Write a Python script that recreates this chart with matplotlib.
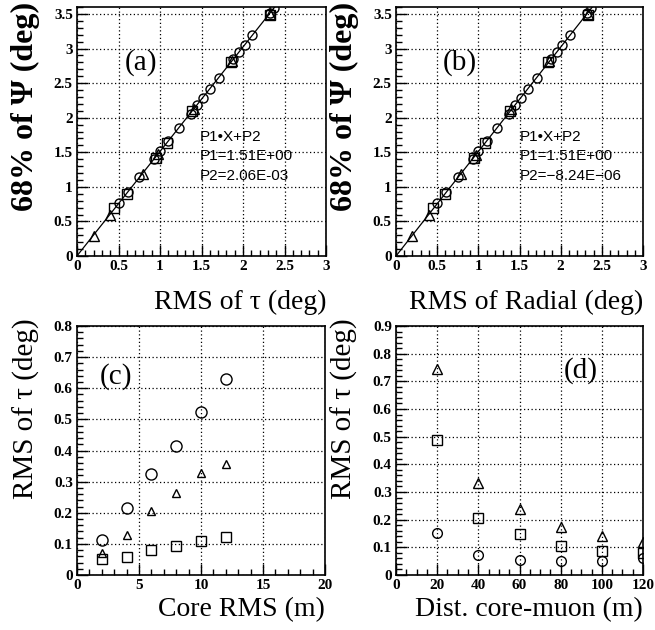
import matplotlib
matplotlib.use("Agg")
import matplotlib.pyplot as plt
import numpy as np
from matplotlib.ticker import MultipleLocator, FuncFormatter

plt.rcParams['font.family'] = ['Liberation Serif', 'DejaVu Serif']

# Panel (a): RMS of tau vs 68% of Psi
a_tri_x = [0.2, 0.4, 0.8, 0.98, 1.41, 1.87, 2.33]
a_tri_y = [0.29, 0.59, 1.19, 1.47, 2.12, 2.82, 3.50]
a_sq_x = [0.45, 0.60, 0.95, 1.08, 1.38, 1.86, 2.33]
a_sq_y = [0.70, 0.90, 1.41, 1.63, 2.10, 2.80, 3.48]
a_ci_x = [0.50, 0.61, 0.75, 0.93, 1.00, 1.10, 1.23, 1.37, 1.44, 1.52, 1.60,
          1.71, 1.88, 1.95, 2.02, 2.11, 2.32, 2.37]
a_ci_y = [0.76, 0.92, 1.14, 1.40, 1.52, 1.66, 1.85, 2.06, 2.18, 2.29, 2.42,
          2.58, 2.85, 2.95, 3.05, 3.19, 3.52, 3.58]
a_fit = ['P1\u2022X+P2', 'P1=1.51E+00', 'P2=2.06E-03']
a_p1, a_p2 = 1.51, 2.06e-3

# Panel (b): RMS of radial vs 68% of Psi
b_tri_x = [0.2, 0.4, 0.79, 0.97, 1.40, 1.86, 2.33]
b_tri_y = [0.29, 0.59, 1.19, 1.46, 2.12, 2.82, 3.50]
b_sq_x = [0.45, 0.60, 0.95, 1.08, 1.38, 1.85, 2.33]
b_sq_y = [0.70, 0.90, 1.41, 1.63, 2.10, 2.80, 3.48]
b_ci_x = [0.50, 0.61, 0.75, 0.93, 1.00, 1.10, 1.23, 1.37, 1.44, 1.52, 1.60,
          1.71, 1.88, 1.95, 2.02, 2.11, 2.32, 2.37]
b_ci_y = [0.76, 0.92, 1.14, 1.40, 1.52, 1.66, 1.85, 2.06, 2.18, 2.29, 2.42,
          2.58, 2.85, 2.95, 3.05, 3.19, 3.52, 3.58]
b_fit = ['P1\u2022X+P2', 'P1=1.51E+00', 'P2=\u22128.24E\u221206']
b_p1, b_p2 = 1.51, -8.24e-6

# Panel (c): core RMS
c_x = [2, 4, 6, 8, 10, 12]
c_ci = [0.112, 0.214, 0.323, 0.413, 0.524, 0.629]
c_tri = [0.072, 0.130, 0.205, 0.263, 0.328, 0.356]
c_sq = [0.050, 0.058, 0.079, 0.092, 0.109, 0.122]

# Panel (d): distance core-muon
d_x = [20, 40, 60, 80, 100, 120]
d_tri = [0.745, 0.332, 0.237, 0.172, 0.142, 0.120]
d_sq = [0.487, 0.206, 0.147, 0.106, 0.086, 0.080]
d_ci = [0.152, 0.073, 0.054, 0.050, 0.050, 0.060]

W, H = 655, 630
fig = plt.figure(figsize=(W/100, H/100), dpi=100)

def make_ax(l, r, t, b):
    return fig.add_axes([l/W, 1 - b/H, (r-l)/W, (b-t)/H])

fmt = FuncFormatter(lambda v, p: '%g' % round(v, 6))

def style(ax, xlim, ylim, xmaj, xmin, ymaj, ymin):
    ax.set_xlim(*xlim); ax.set_ylim(*ylim)
    ax.xaxis.set_major_locator(MultipleLocator(xmaj))
    ax.xaxis.set_minor_locator(MultipleLocator(xmin))
    ax.yaxis.set_major_locator(MultipleLocator(ymaj))
    ax.yaxis.set_minor_locator(MultipleLocator(ymin))
    ax.xaxis.set_major_formatter(fmt)
    ax.yaxis.set_major_formatter(fmt)
    ax.tick_params(which='both', direction='in', top=False, right=False,
                   labelsize=11, width=1, pad=3)
    ax.tick_params(which='major', length=8)
    ax.tick_params(which='minor', length=4)
    ax.grid(True, which='major', linestyle=(0, (1, 2)), color='black', linewidth=0.9)
    for s in ax.spines.values():
        s.set_linewidth(1.2)

def bold_ticks(ax):
    for lab in ax.get_xticklabels() + ax.get_yticklabels():
        lab.set_fontweight('bold')

mk = dict(linestyle='none', markerfacecolor='none', markeredgecolor='black',
          markeredgewidth=1.0)
sans = dict(family=['Liberation Sans', 'DejaVu Sans'], fontsize=11)

def top_panel(ax, tx, ty, sx, sy, cx, cy, p1, p2, fit, tag, xlabel, tx0):
    style(ax, (0, 3), (0, 3.6), 0.5, 0.1, 0.5, 0.1)
    xs = np.linspace(0, 3, 50)
    ax.plot(xs, p1*xs + p2, color='black', linewidth=0.9)
    ax.plot(tx, ty, marker='^', markersize=7.5, **mk)
    ax.plot(sx, sy, marker='s', markersize=6.5, **mk)
    ax.plot(cx, cy, marker='o', markersize=6.5, **mk)
    ax.text(0.57, 2.79, tag, fontsize=21, va='center')
    for txt, yy in zip(fit, [1.72, 1.45, 1.16]):
        ax.text(tx0, yy, txt, va='center', **sans)
    ax.set_ylabel('68% of \u03a8 (deg)', fontsize=23, fontweight='bold', loc='top')
    ax.yaxis.set_label_coords(-0.15, 1.02)
    ax.set_xlabel(xlabel, fontsize=20, loc='right')
    ax.xaxis.set_label_coords(1.0, -0.135)
    bold_ticks(ax)

axa = make_ax(77, 326, 7, 256)
top_panel(axa, a_tri_x, a_tri_y, a_sq_x, a_sq_y, a_ci_x, a_ci_y, a_p1, a_p2,
          a_fit, '(a)', 'RMS of \u03c4 (deg)', 1.48)
axb = make_ax(396, 643, 7, 256)
top_panel(axb, b_tri_x, b_tri_y, b_sq_x, b_sq_y, b_ci_x, b_ci_y, b_p1, b_p2,
          b_fit, '(b)', 'RMS of Radial (deg)', 1.50)

axc = make_ax(77, 325, 326, 575)
style(axc, (0, 20), (0, 0.8), 5, 1, 0.1, 0.02)
axc.plot(c_x, c_ci, marker='o', markersize=8, **mk)
axc.plot(c_x, c_tri, marker='^', markersize=5.5, **mk)
axc.plot(c_x, c_sq, marker='s', markersize=7.5, **mk)
axc.text(1.85, 0.637, '(c)', fontsize=21, va='center')
axc.set_ylabel('RMS of \u03c4 (deg)', fontsize=21, loc='top')
axc.yaxis.set_label_coords(-0.15, 1.032)
axc.set_xlabel('Core RMS (m)', fontsize=20, loc='right')
axc.xaxis.set_label_coords(1.0, -0.09)
bold_ticks(axc)

axd = make_ax(396, 643, 326, 575)
style(axd, (0, 120), (0, 0.9), 20, 5, 0.1, 0.02)
axd.plot(d_x, d_tri, marker='^', markersize=7.5, **mk)
axd.plot(d_x, d_sq, marker='s', markersize=7, **mk)
axd.plot(d_x, d_ci, marker='o', markersize=7, **mk)
axd.text(81.5, 0.74, '(d)', fontsize=21, va='center')
axd.set_ylabel('RMS of \u03c4 (deg)', fontsize=21, loc='top')
axd.yaxis.set_label_coords(-0.155, 1.032)
axd.set_xlabel('Dist. core-muon (m)', fontsize=20, loc='right')
axd.xaxis.set_label_coords(1.0, -0.09)
bold_ticks(axd)

fig.savefig('out.png', dpi=100)
